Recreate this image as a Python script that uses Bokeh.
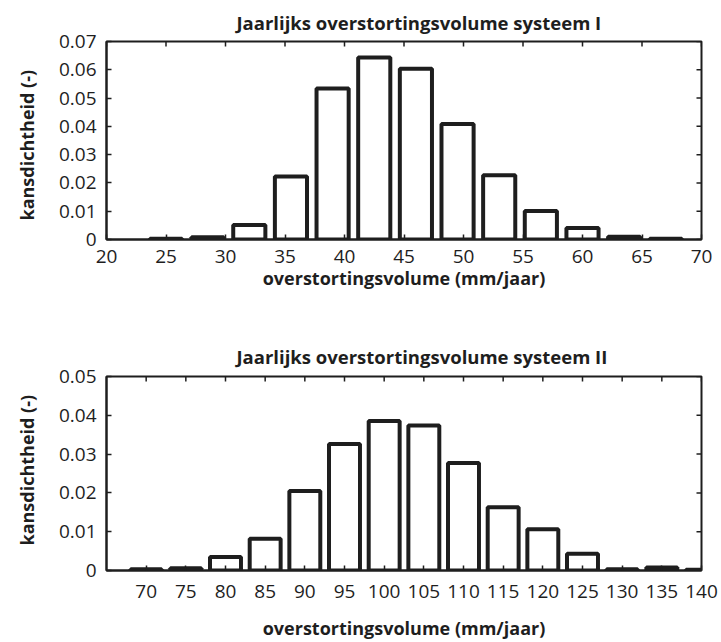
from bokeh.plotting import figure
from bokeh.layouts import column
from bokeh.models import Range1d, FixedTicker, Title
from bokeh.embed import file_html
from bokeh.resources import INLINE
import math

# ---- data: system I ----
x1_centers = [25.0, 28.5, 32.0, 35.5, 39.0, 42.5, 46.0, 49.5, 53.0, 56.5, 60.0, 63.5, 67.0]
y1_density = [0.0003, 0.0008, 0.0051, 0.0223, 0.0534, 0.0643, 0.0604, 0.0408, 0.0227, 0.0101, 0.0041, 0.0010, 0.0003]
x1_ticks = [20, 25, 30, 35, 40, 45, 50, 55, 60, 65, 70]
y1_ticks = [0, 0.01, 0.02, 0.03, 0.04, 0.05, 0.06, 0.07]
y1_tick_labels = ["0", "0.01", "0.02", "0.03", "0.04", "0.05", "0.06", "0.07"]

# ---- data: system II ----
x2_centers = [70, 75, 80, 85, 90, 95, 100, 105, 110, 115, 120, 125, 130, 135, 140]
y2_density = [0.0003, 0.0006, 0.0035, 0.0082, 0.0205, 0.0326, 0.0385, 0.0374, 0.0277, 0.0163, 0.0106, 0.0043, 0.0003, 0.0008, 0.0002]
x2_ticks = [70, 75, 80, 85, 90, 95, 100, 105, 110, 115, 120, 125, 130, 135, 140]
y2_ticks = [0, 0.01, 0.02, 0.03, 0.04, 0.05]
y2_tick_labels = ["0", "0.01", "0.02", "0.03", "0.04", "0.05"]

titles = ["Jaarlijks overstortingsvolume systeem I", "Jaarlijks overstortingsvolume systeem II"]
x_label = "overstortingsvolume (mm/jaar)"
y_label = "kansdichtheid (-)"

FONT = "Open Sans"
INK = "#1e1e1e"


def make_panel(xc, yd, xt, yt, ytl, xr, yr, bar_w, title, height, b_top, b_bottom,
               title_standoff, tick_standoff, xlab_standoff, ylab_offset):
    p = figure(width=721, height=height, output_backend="svg", toolbar_location=None,
               x_range=Range1d(*xr), y_range=Range1d(*yr),
               min_border_left=106, min_border_right=20,
               min_border_top=b_top, min_border_bottom=b_bottom,
               title=title)
    p.title.text_font = FONT
    p.title.text_font_size = "18.5px"
    p.title.text_font_style = "bold"
    p.title.text_color = INK
    p.title.align = "left"
    p.title.offset = 130
    p.title.standoff = title_standoff
    p.xgrid.visible = False
    p.ygrid.visible = False
    p.outline_line_color = INK
    p.outline_line_width = 2
    p.background_fill_color = "white"
    p.border_fill_color = "white"

    p.vbar(x=xc, top=yd, bottom=0, width=bar_w, fill_color="white",
           line_color=INK, line_width=4)

    p.xaxis.ticker = FixedTicker(ticks=xt)
    p.yaxis.ticker = FixedTicker(ticks=yt)
    p.yaxis.major_label_overrides = {t: l for t, l in zip(yt, ytl)}
    for ax in (p.xaxis[0], p.yaxis[0]):
        ax.major_tick_in = 5
        ax.major_tick_out = 0
        ax.minor_tick_line_color = None
        ax.axis_line_width = 2
        ax.axis_line_color = INK
        ax.major_tick_line_color = INK
        ax.major_tick_line_width = 1.5
        ax.major_label_text_font = FONT
        ax.major_label_text_font_size = "19px"
        ax.major_label_text_color = INK
        ax.axis_label_text_font = FONT
        ax.axis_label_text_font_size = "18px"
        ax.axis_label_text_font_style = "bold"
        ax.axis_label_text_color = INK
    p.xaxis.axis_label = x_label
    p.xaxis.major_label_standoff = tick_standoff
    p.xaxis.axis_label_standoff = xlab_standoff
    p.yaxis.major_label_standoff = 10

    # mirrored inward ticks on the top and right edges of the box
    p.ray(x=xt, y=[yr[1]] * len(xt), length=5, length_units="screen",
          angle=-math.pi / 2, line_color=INK, line_width=1.5)
    p.ray(x=[xr[1]] * len(yt), y=yt, length=5, length_units="screen",
          angle=math.pi, line_color=INK, line_width=1.5)

    # y-axis label as a left-side title (allows vertical offset)
    yl = Title(text=y_label, align="left", vertical_align="top",
               offset=ylab_offset, standoff=29,
               text_font=FONT, text_font_size="18px", text_font_style="bold",
               text_color=INK)
    p.add_layout(yl, "left")
    return p


p1 = make_panel(x1_centers, y1_density, x1_ticks, y1_ticks, y1_tick_labels,
                (20, 70), (0, 0.07), 2.7, titles[0], 320, 41, 81, 14, 10, 0, 19)
p2 = make_panel(x2_centers, y2_density, x2_ticks, y2_ticks, y2_tick_labels,
                (65, 140), (0, 0.05), 3.9, titles[1], 322, 56, 67, 16, 14, 15, 25)

layout = column(p1, p2, spacing=0)
open("out.html", "w").write(file_html(layout, INLINE))
